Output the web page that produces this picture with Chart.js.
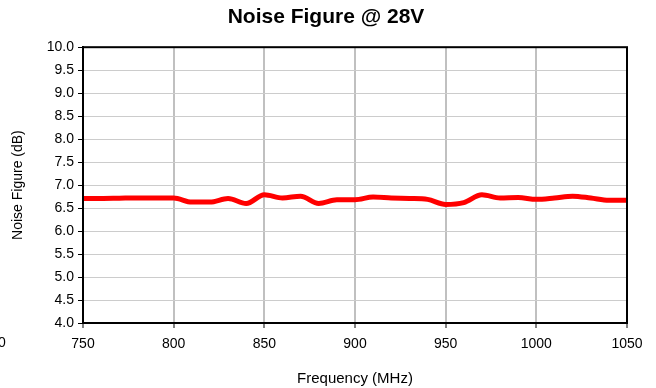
<!DOCTYPE html>
<html>
<head>
<meta charset="utf-8">
<script src="https://cdn.jsdelivr.net/npm/chart.js@4"></script>
<style>
  html, body { margin: 0; padding: 0; background: #fff; }
  #wrap { width: 656px; height: 388px; }
</style>
</head>
<body>
<div id="wrap"><canvas id="nf-chart" width="656" height="388"></canvas></div>
<script>
// frequency (MHz) and noise figure (dB)
const freqs = [750, 760, 770, 780, 790, 800, 810, 820, 830, 840, 850, 860, 870, 880, 890, 900,
    910, 920, 930, 940, 950, 960, 970, 980, 990, 1000, 1010, 1020, 1030, 1040, 1050];
const noiseFigure = [6.71, 6.71, 6.715, 6.72, 6.72, 6.72, 6.63, 6.63, 6.71, 6.60, 6.79, 6.72, 6.76, 6.60, 6.68, 6.68,
    6.74, 6.72, 6.71, 6.69, 6.58, 6.62, 6.79, 6.72, 6.73, 6.69, 6.72, 6.76, 6.72, 6.67, 6.67];

const xMin = 750, xMax = 1050, xStep = 50;
const yMin = 4, yMax = 10, yStep = 0.5;

Chart.defaults.font.family = '"Liberation Sans", Arial, sans-serif';
Chart.defaults.color = '#000';

const boxBorder = {
    id: 'boxBorder',
    afterLayout(chart) {
        // title in the original is centred on the whole canvas, not the padded box
        const t = chart.titleBlock;
        if (t) {
            t.left = 0;
            t.right = 652;
            t.width = 652;
        }
    },
    afterDraw(chart) {
        const { ctx, chartArea: a } = chart;
        ctx.save();
        ctx.strokeStyle = '#000';
        ctx.lineWidth = 2;
        ctx.strokeRect(a.left, a.top, a.right - a.left, a.bottom - a.top);
        // stray clipped label at far left of the original
        ctx.fillStyle = '#000';
        ctx.font = '14px "Liberation Sans", Arial, sans-serif';
        ctx.textAlign = 'center';
        ctx.textBaseline = 'middle';
        ctx.fillText('0', 2, 343);
        ctx.restore();
    }
};

const nfCtx = document.getElementById('nf-chart').getContext('2d');

new Chart(nfCtx, {
    type: 'line',
    data: {
        datasets: [{
            label: 'Noise Figure',
            data: freqs.map((f, i) => ({ x: f, y: noiseFigure[i] })),
            borderColor: '#ff0000',
            borderWidth: 5,
            pointRadius: 0,
            tension: 0.4,
            cubicInterpolationMode: 'monotone',
            fill: false
        }]
    },
    options: {
        responsive: false,
        animation: false,
        layout: { padding: { left: 0, right: 29, top: 0, bottom: 0 } },
        plugins: {
            legend: { display: false },
            tooltip: { enabled: false },
            title: {
                display: true,
                text: 'Noise Figure @ 28V',
                font: { size: 21, weight: 'bold' },
                padding: { top: 5, bottom: 17 }
            }
        },
        scales: {
            x: {
                type: 'linear',
                min: xMin,
                max: xMax,
                afterFit(scale) { scale.height = 65; },
                border: { display: true, color: '#000', width: 2 },
                grid: { color: '#c0c0c0', lineWidth: 2, tickLength: 5, tickColor: '#000', tickWidth: 1 },
                ticks: {
                    stepSize: xStep,
                    font: { size: 14 },
                    padding: 8,
                    maxRotation: 0,
                    callback: v => String(v)
                },
                title: {
                    display: true,
                    text: 'Frequency (MHz)',
                    font: { size: 15 },
                    padding: { top: 11, bottom: 0 }
                }
            },
            y: {
                min: yMin,
                max: yMax,
                afterFit(scale) { scale.width = 83; },
                border: { display: true, color: '#000', width: 2 },
                grid: { color: '#cccccc', lineWidth: 1, tickLength: 5, tickColor: '#000', tickWidth: 1 },
                ticks: {
                    stepSize: yStep,
                    font: { size: 14 },
                    padding: 4,
                    callback: v => v.toFixed(1)
                },
                title: {
                    display: true,
                    text: 'Noise Figure (dB)',
                    font: { size: 14 },
                    padding: { top: 10, bottom: 4 }
                }
            }
        }
    },
    plugins: [boxBorder]
});
</script>
</body>
</html>
